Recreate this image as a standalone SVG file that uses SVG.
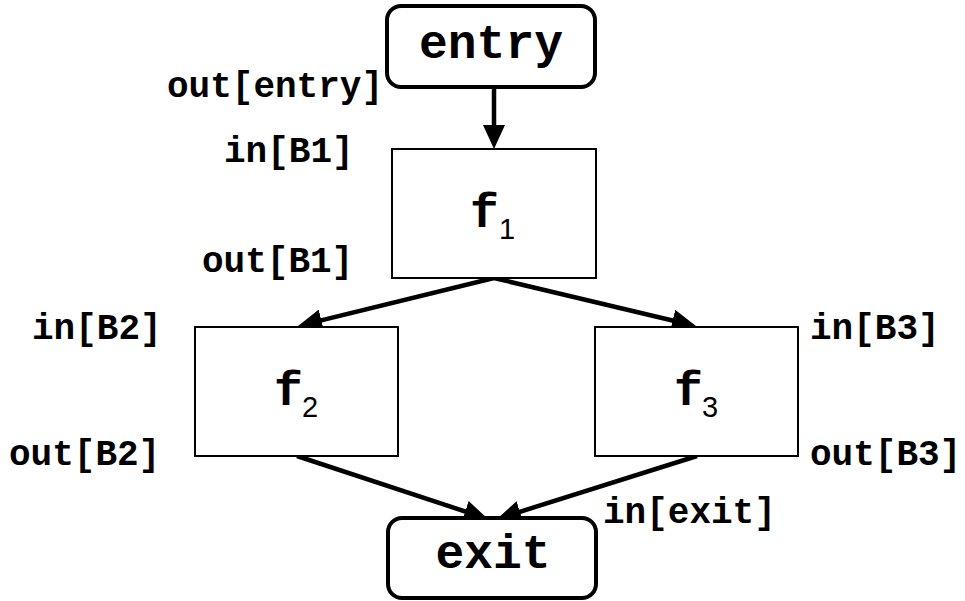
<svg xmlns="http://www.w3.org/2000/svg" width="965" height="601" viewBox="0 0 965 601">
<style>
.term{fill:#fff;stroke:#000;stroke-width:4}
.blk{fill:#fff;stroke:#000;stroke-width:2}
.big{font-family:"Liberation Mono","Courier New",monospace;font-weight:bold;font-size:48px;fill:#000}
.sub{font-family:"Liberation Sans",Arial,sans-serif;font-size:29px;fill:#000}
.lbl{font-family:"Liberation Mono","Courier New",monospace;font-weight:bold;font-size:36px;fill:#000}
.edge{stroke:#000;stroke-width:4.5;fill:none;marker-end:url(#ah)}
</style>
<defs>
<marker id="ah" markerUnits="userSpaceOnUse" markerWidth="24" markerHeight="22" refX="16" refY="11" orient="auto">
<path d="M0,0 L24,11 L0,22 z" fill="#000"/>
</marker>
</defs>
<rect width="965" height="601" fill="#fff"/>
<g id="connectors">
<line class="edge" x1="494" y1="87" x2="494" y2="141"/>
<line class="edge" x1="494" y1="278" x2="305.8" y2="324.1"/>
<line class="edge" x1="494" y1="278" x2="688.2" y2="324.2"/>
<line class="edge" x1="297" y1="456" x2="480.4" y2="516.5"/>
<line class="edge" x1="697" y1="456" x2="504.6" y2="516.6"/>
</g>
<g id="entry">
<rect class="term" x="387" y="6" width="208" height="81" rx="14"/>
<text class="big" x="491" y="58" text-anchor="middle">entry</text>
</g>
<g id="B1">
<rect class="blk" x="392" y="149" width="204" height="129"/>
<text class="big" x="470" y="227">f</text>
<text class="sub" x="499" y="239">1</text>
</g>
<g id="B2">
<rect class="blk" x="195" y="327" width="203" height="129"/>
<text class="big" x="274" y="405">f</text>
<text class="sub" x="302" y="417">2</text>
</g>
<g id="B3">
<rect class="blk" x="595" y="327" width="203" height="129"/>
<text class="big" x="674" y="405">f</text>
<text class="sub" x="702" y="417">3</text>
</g>
<g id="exit">
<rect class="term" x="388" y="518" width="208" height="80" rx="14"/>
<text class="big" x="493" y="568" text-anchor="middle">exit</text>
</g>
<g id="labels">
<text class="lbl" x="167" y="97">out[entry]</text>
<text class="lbl" x="224" y="162">in[B1]</text>
<text class="lbl" x="202" y="272">out[B1]</text>
<text class="lbl" x="32" y="339">in[B2]</text>
<text class="lbl" x="9" y="465">out[B2]</text>
<text class="lbl" x="810" y="339">in[B3]</text>
<text class="lbl" x="810" y="465">out[B3]</text>
<text class="lbl" x="603" y="523">in[exit]</text>
</g>
</svg>
